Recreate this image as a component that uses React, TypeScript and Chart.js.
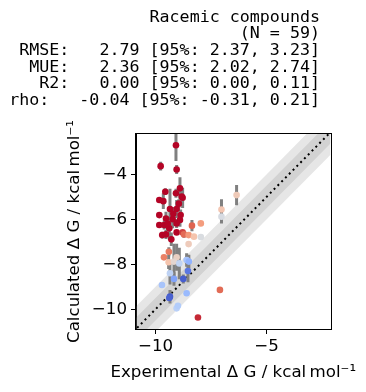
import { useEffect, useRef } from "react";
import { Chart, registerables } from "chart.js";

Chart.register(...registerables);

// Experimental ΔG (x) and calculated ΔG (y), kcal/mol, with calculated uncertainty
const experimental = [
  -9.08, -9.77, -9.05, -8.9, -9.56, -9.08, -8.78, -9.83, -9.65, -8.82,
  -9.35, -9.05, -9.83, -9.53, -9.23, -8.87, -8.9, -9.83, -9.61, -9.38,
  -9.05, -9.7, -9.53, -9.05, -8.78, -8.72, -8.51, -8.36, -8.27, -7.96,
  -7.96, -9.29, -8.51, -9.4, -9.62, -9.41, -9.05, -9.17, -8.93, -8.6,
  -8.5, -9.35, -8.54, -9.17, -8.75, -9.71, -9.35, -9.38, -8.6, -9.05,
  -8.99, -7.1, -8.09, -7.03, -7.03, -6.35, -9.2, -9.45, -8.95,
];
const calculated = [
  -2.7, -3.63, -3.78, -4.62, -4.77, -4.84, -5.04, -5.14, -5.19, -4.98,
  -5.54, -5.54, -5.81, -5.96, -5.99, -5.81, -6.03, -6.25, -6.25, -6.4,
  -6.18, -6.7, -6.67, -6.58, -6.58, -6.67, -6.7, -6.28, -6.77, -6.18,
  -6.79, -6.89, -7.1, -7.44, -7.69, -7.91, -7.69, -7.88, -7.96, -7.81,
  -7.88, -8.4, -8.3, -8.65, -8.65, -8.92, -9.44, -9.5, -9.29, -9.96,
  -9.85, -9.14, -10.37, -5.56, -5.88, -4.92, -5.75, -6.2, -5.3,
];
const calculatedErr = [
  0.7, 0.2, 0.2, 0.5, 0.15, 0.2, 0.45, 0.1, 0.35, 0.3,
  0.9, 0.4, 0.1, 0.3, 0.4, 0.25, 0.3, 0.1, 0.2, 0.5,
  0.2, 0.15, 0.2, 0.1, 0.1, 0.15, 0.1, 0.25, 0.1, 0.1,
  0.1, 0.3, 0.1, 0.2, 0.1, 0.3, 0.6, 0.8, 0.7, 0.3,
  0.3, 0.5, 0.5, 0.3, 0.2, 0.1, 0.3, 0.1, 0.1, 0.1,
  0.1, 0.1, 0.1, 0.45, 0.3, 0.45, 0.3, 0.3, 0.2,
];

const xTicks = [-10, -5];
const yTicks = [-10, -8, -6, -4];
const xLimits = [-10.88, -2.12];
const yLimits = [-10.88, -2.2];
const shadings = [1.0, 0.5];
const colorMaxAbsErr = 2.4;

const titleLines = [
  "Racemic compounds",
  "(N = 59)",
  "RMSE:   2.79 [95%: 2.37, 3.23]",
  "MUE:   2.36 [95%: 2.02, 2.74]",
  "R2:   0.00 [95%: 0.00, 0.11]",
  "rho:   -0.04 [95%: -0.31, 0.21]",
];
const xLabel = "Experimental \u0394 G / kcal\u2009mol\u207B\u00B9";
const yLabel = "Calculated \u0394 G / kcal\u2009mol\u207B\u00B9";

const coolwarm: number[][] = [
  [58, 76, 192],
  [98, 130, 234],
  [141, 176, 254],
  [184, 208, 249],
  [221, 221, 221],
  [245, 196, 173],
  [244, 154, 123],
  [222, 96, 77],
  [180, 4, 38],
];

function cmap(t: number): string {
  const v = Math.max(0, Math.min(1, t)) * (coolwarm.length - 1);
  const i = Math.min(coolwarm.length - 2, Math.floor(v));
  const f = v - i;
  const a = coolwarm[i];
  const b = coolwarm[i + 1];
  const c = a.map((ch, k) => Math.round(ch + (b[k] - ch) * f));
  return `rgb(${c[0]},${c[1]},${c[2]})`;
}

const fmt = (v: number) => (v < 0 ? "\u2212" + Math.abs(v) : String(v));
const FONT = "'DejaVu Sans', sans-serif";
const FS = 16.67;

export default function App() {
  const ref = useRef<HTMLCanvasElement | null>(null);

  useEffect(() => {
    if (!ref.current) return;
    const lo = Math.min(xLimits[0], yLimits[0]) - 2;
    const hi = Math.max(xLimits[1], yLimits[1]) + 2;

    const points = experimental.map((x, i) => ({ x, y: calculated[i] }));
    const colors = experimental.map((x, i) =>
      cmap(Math.abs(calculated[i] - x) / colorMaxAbsErr)
    );

    const bandSets: any[] = [];
    shadings.forEach((s) => {
      bandSets.push({
        data: [
          { x: lo, y: lo + s },
          { x: hi, y: hi + s },
        ],
        showLine: true,
        borderWidth: 0,
        pointRadius: 0,
        backgroundColor: "rgba(128,128,128,0.2)",
        fill: "+1",
      });
      bandSets.push({
        data: [
          { x: lo, y: lo - s },
          { x: hi, y: hi - s },
        ],
        showLine: true,
        borderWidth: 0,
        pointRadius: 0,
        fill: false,
      });
    });

    const errorBars = {
      id: "errorBars",
      beforeDatasetDraw(chart: any, args: any) {
        if (args.index !== 0) return;
        const { ctx, chartArea, scales } = chart;
        ctx.save();
        ctx.beginPath();
        ctx.rect(chartArea.left, chartArea.top, chartArea.right - chartArea.left, chartArea.bottom - chartArea.top);
        ctx.clip();
        ctx.strokeStyle = "#808080";
        ctx.lineWidth = 3;
        experimental.forEach((x, i) => {
          const px = scales.x.getPixelForValue(x);
          const y1 = scales.y.getPixelForValue(calculated[i] - calculatedErr[i]);
          const y2 = scales.y.getPixelForValue(calculated[i] + calculatedErr[i]);
          ctx.beginPath();
          ctx.moveTo(px, y1);
          ctx.lineTo(px, y2);
          ctx.stroke();
        });
        ctx.restore();
      },
    };

    const frameAndText = {
      id: "frameAndText",
      afterDraw(chart: any) {
        const { ctx, chartArea } = chart;
        ctx.save();
        ctx.strokeStyle = "#000";
        ctx.lineWidth = 1;
        ctx.strokeRect(
          Math.round(chartArea.left) - 0.5,
          Math.round(chartArea.top) - 0.5,
          Math.round(chartArea.right - chartArea.left) + 1,
          Math.round(chartArea.bottom - chartArea.top) + 1
        );
        ctx.fillStyle = "#000";
        ctx.font = `${FS}px 'DejaVu Sans Mono', monospace`;
        ctx.textAlign = "right";
        ctx.textBaseline = "alphabetic";
        titleLines.forEach((line, i) => {
          ctx.fillText(line, 320, 21.7 + i * 16.65);
        });
        // axis labels
        ctx.font = `${FS}px ${FONT}`;
        ctx.textAlign = "center";
        ctx.textBaseline = "middle";
        const cx = (chartArea.left + chartArea.right) / 2;
        const cy = (chartArea.top + chartArea.bottom) / 2;
        ctx.fillText(xLabel, cx, 373);
        ctx.translate(75, cy);
        ctx.rotate(-Math.PI / 2);
        ctx.fillText(yLabel, 0, 0);
        ctx.restore();
      },
    };

    const chart = new Chart(ref.current, {
      type: "scatter",
      data: {
        datasets: [
          {
            data: points,
            pointRadius: 3.3,
            pointHoverRadius: 3.3,
            pointBorderWidth: 0,
            pointBackgroundColor: colors,
            pointBorderColor: colors,
          },
          {
            data: [
              { x: lo, y: lo },
              { x: hi, y: hi },
            ],
            showLine: true,
            borderColor: "#000",
            borderWidth: 2,
            borderDash: [2, 3.4],
            pointRadius: 0,
          },
          ...bandSets,
        ],
      },
      options: {
        responsive: false,
        animation: false,
        events: [],
        layout: { padding: { top: 134, right: 35.5, left: 0, bottom: 0 } },
        plugins: {
          legend: { display: false },
          tooltip: { enabled: false },
          title: { display: false },
        },
        scales: {
          x: {
            type: "linear",
            position: "bottom",
            min: xLimits[0],
            max: xLimits[1],
            afterBuildTicks: (s: any) => {
              s.ticks = xTicks.map((v) => ({ value: v }));
            },
            afterFit: (s: any) => {
              s.height = 63;
            },
            ticks: {
              color: "#000",
              font: { family: FONT, size: FS },
              padding: 3,
              maxRotation: 0,
              callback: (v: any) => fmt(Number(v)),
            },
            grid: {
              drawOnChartArea: false,
              drawTicks: true,
              tickLength: 5,
              color: "#000",
            },
            border: { display: true, color: "#000" },
            title: { display: false },
          },
          y: {
            type: "linear",
            position: "left",
            min: yLimits[0],
            max: yLimits[1],
            afterBuildTicks: (s: any) => {
              s.ticks = yTicks.map((v) => ({ value: v }));
            },
            afterFit: (s: any) => {
              s.width = 136;
            },
            ticks: {
              color: "#000",
              font: { family: FONT, size: FS },
              padding: 4,
              callback: (v: any) => fmt(Number(v)),
            },
            grid: {
              drawOnChartArea: false,
              drawTicks: true,
              tickLength: 5,
              color: "#000",
            },
            border: { display: true, color: "#000" },
            title: { display: false },
          },
        },
      },
      plugins: [errorBars, frameAndText],
    });
    return () => chart.destroy();
  }, []);

  return (
    <canvas
      ref={ref}
      width={366}
      height={392}
      style={{ position: "absolute", left: 0, top: 0, width: 366, height: 392 }}
    />
  );
}
